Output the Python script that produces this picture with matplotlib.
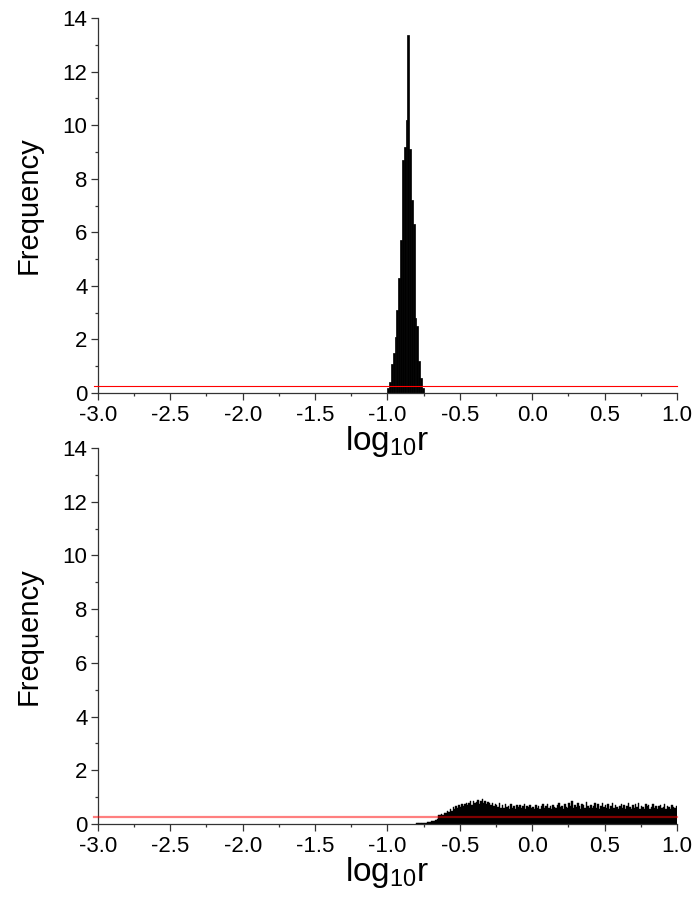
import numpy as np
import matplotlib
matplotlib.use("Agg")
import matplotlib.pyplot as plt

plt.rcParams['font.family'] = ['Liberation Sans', 'DejaVu Sans']
plt.rcParams['mathtext.fontset'] = 'custom'
plt.rcParams['mathtext.rm'] = 'Liberation Sans'
plt.rcParams['mathtext.default'] = 'regular'

# top panel: narrow peak, bin width 0.0125 starting at -1.0
top_start = -1.0
top_width = 0.0125
top_freq = [0.17, 0.40, 1.10, 1.50, 2.10, 3.10, 4.30, 5.70, 8.70, 9.20,
            10.20, 13.36, 9.10, 7.20, 6.30, 2.80, 2.50, 1.20, 0.55, 0.17]

# bottom panel: broad flat distribution, bin width 0.01 starting at -0.8
bot_start = -0.8
bot_width = 0.01
bot_freq = [
    0.02, 0.02, 0.03, 0.03, 0.04, 0.04, 0.05, 0.06, 0.07, 0.08,
    0.10, 0.11, 0.13, 0.16, 0.18, 0.33, 0.35, 0.37, 0.34, 0.42,
    0.40, 0.50, 0.44, 0.55, 0.48, 0.62, 0.56, 0.66, 0.58, 0.72,
    0.64, 0.76, 0.68, 0.74, 0.80, 0.70, 0.78, 0.84, 0.72, 0.86,
    0.78, 0.82, 0.88, 0.76, 0.84, 0.92, 0.80, 0.86, 0.74, 0.82,
    0.78, 0.70, 0.80, 0.66, 0.76, 0.72, 0.64, 0.78, 0.60, 0.70,
    0.58, 0.74, 0.62, 0.68, 0.56, 0.76, 0.60, 0.66, 0.54, 0.70,
    0.62, 0.72, 0.58, 0.66, 0.74, 0.56, 0.68, 0.62, 0.70, 0.58,
    0.64, 0.56, 0.72, 0.60, 0.66, 0.54, 0.68, 0.74, 0.58, 0.66,
    0.76, 0.60, 0.68, 0.56, 0.72, 0.64, 0.58, 0.70, 0.80, 0.62,
    0.68, 0.56, 0.74, 0.64, 0.60, 0.78, 0.66, 0.84, 0.58, 0.70,
    0.62, 0.80, 0.66, 0.56, 0.74, 0.70, 0.60, 0.82, 0.66, 0.58,
    0.72, 0.60, 0.66, 0.78, 0.58, 0.74, 0.56, 0.68, 0.80, 0.62,
    0.70, 0.58, 0.76, 0.56, 0.66, 0.78, 0.60, 0.72, 0.64, 0.54,
    0.68, 0.76, 0.58, 0.70, 0.56, 0.66, 0.80, 0.62, 0.54, 0.70,
    0.60, 0.74, 0.64, 0.78, 0.56, 0.68, 0.62, 0.54, 0.74, 0.66,
    0.70, 0.56, 0.64, 0.76, 0.58, 0.68, 0.54, 0.66, 0.72, 0.58,
    0.64, 0.74, 0.56, 0.68, 0.62, 0.54, 0.70, 0.64, 0.58, 0.68,
]

# uniform reference density over [-3, 1]
uniform_level = 0.25

x_ticks = [-3.0, -2.5, -2.0, -1.5, -1.0, -0.5, 0.0, 0.5, 1.0]
y_ticks = [0, 2, 4, 6, 8, 10, 12, 14]


def style_axes(ax):
    ax.set_xlim(-3.0, 1.0)
    ax.set_ylim(0, 14)
    ax.set_xticks(x_ticks)
    ax.set_xticklabels(["%.1f" % t for t in x_ticks])
    ax.set_xticks(np.arange(-2.75, 1.0, 0.5), minor=True)
    ax.set_yticks(y_ticks)
    ax.set_yticks(np.arange(1, 14, 2), minor=True)
    for s in ["top", "right"]:
        ax.spines[s].set_visible(False)
    for s in ["left", "bottom"]:
        ax.spines[s].set_color("#333333")
        ax.spines[s].set_linewidth(0.9)
    ax.tick_params(which="major", direction="out", length=5, width=0.9,
                   color="#333333", labelsize=16, pad=2.5)
    ax.tick_params(axis="x", which="major", pad=3.5)
    ax.tick_params(which="minor", direction="out", length=2.5, width=0.9,
                   color="#333333")
    ax.set_ylabel("Frequency", fontsize=21, labelpad=14)
    ax.set_xlabel("log$_{10}$r", fontsize=24, labelpad=-1)
    ax.patch.set_visible(False)


fig = plt.figure(figsize=(6.99, 9.05), dpi=100)
ax1 = fig.add_axes([0.140, 0.5657, 0.8285, 0.4143])
ax2 = fig.add_axes([0.140, 0.0895, 0.8285, 0.4155])

# Top histogram
edges1 = top_start + top_width * np.arange(len(top_freq))
ax1.bar(edges1, top_freq, width=top_width, align="edge",
        color="black", edgecolor="black", linewidth=0.5, zorder=2)
ax1.plot([-3.025, 1.0], [uniform_level, uniform_level], color="red",
         linewidth=0.8, clip_on=False, zorder=3)
style_axes(ax1)

# Bottom histogram
edges2 = bot_start + bot_width * np.arange(len(bot_freq))
ax2.bar(edges2, bot_freq, width=bot_width, align="edge",
        color="black", edgecolor="black", linewidth=0.3, zorder=2)
ax2.plot([-3.025, 1.0], [uniform_level, uniform_level], color="red",
         alpha=0.5, linewidth=1.6, clip_on=False, zorder=3)
style_axes(ax2)

# keep the top panel's x label above the lower panel
ax1.set_zorder(2)

fig.savefig("out.png", dpi=100)
